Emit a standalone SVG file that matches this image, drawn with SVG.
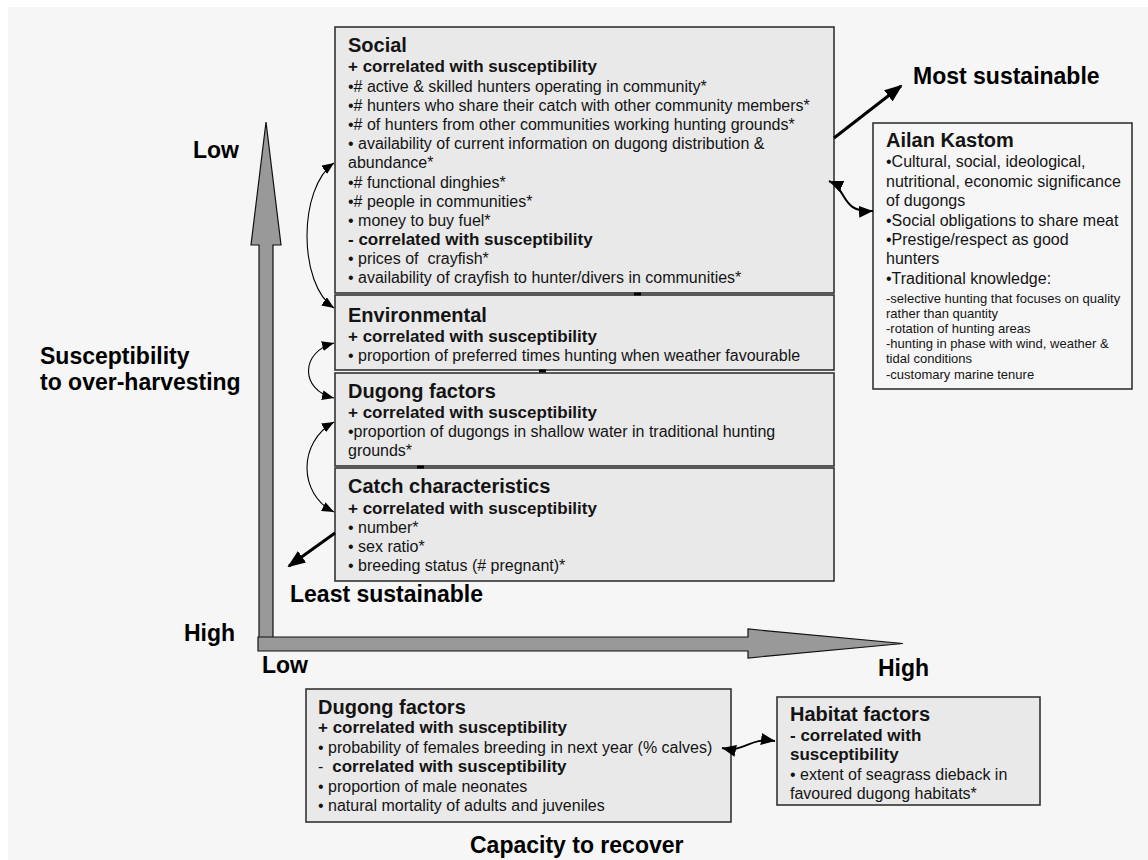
<svg xmlns="http://www.w3.org/2000/svg" width="1148" height="860" viewBox="0 0 1148 860">
  <style>
    text { font-family: "Liberation Sans", Arial, sans-serif; fill: #141414; white-space: pre; }
    .title { font-size: 20px; font-weight: bold; }
    .sub { font-size: 17px; font-weight: bold; }
    .body { font-size: 16px; }
    .small { font-size: 13px; }
    .axis { font-size: 23px; font-weight: bold; fill: #000; }
    .box { fill: #e9e9e9; stroke: #333; stroke-width: 1.6; }
    .plain { fill: none; stroke: #333; stroke-width: 1.6; }
    .bigarrow { fill: #999; stroke: #111; stroke-width: 1.2; stroke-linejoin: miter; }
    .thin { fill: none; stroke: #000; stroke-width: 1.1; marker-start: url(#headThin); marker-end: url(#headThin); }
    .mid { fill: none; stroke: #000; stroke-width: 2; marker-start: url(#headMid); marker-end: url(#headMid); }
    .thick { fill: none; stroke: #000; stroke-width: 3; marker-end: url(#headThick); }
  </style>
  <defs>
    <marker id="headThin" viewBox="0 0 12 10" refX="12" refY="5" markerWidth="12" markerHeight="10" markerUnits="userSpaceOnUse" orient="auto-start-reverse">
      <path d="M0,0 L12,5 L0,10 Z" fill="#000"/>
    </marker>
    <marker id="headMid" viewBox="0 0 14 12" refX="14" refY="6" markerWidth="14" markerHeight="12" markerUnits="userSpaceOnUse" orient="auto-start-reverse">
      <path d="M0,0 L14,6 L0,12 Z" fill="#000"/>
    </marker>
    <marker id="headThick" viewBox="0 0 18 14" refX="16" refY="7" markerWidth="18" markerHeight="14" markerUnits="userSpaceOnUse" orient="auto">
      <path d="M0,0 L18,7 L0,14 Z" fill="#000"/>
    </marker>
  </defs>

  <!-- page -->
  <rect x="0" y="0" width="1148" height="860" fill="#fff"/>
  <rect x="8" y="7" width="1140" height="853" fill="#f6f6f6"/>

  <!-- axes -->
  <g id="axes">
    <polygon class="bigarrow" points="259,650 259,245 251,245 266,122 281,245 273,245 273,650"/>
    <polygon class="bigarrow" points="258,637 748,637 748,629 903,643.5 748,658 748,651 258,651"/>
    <text class="axis" x="193" y="158">Low</text>
    <text class="axis" x="184" y="641">High</text>
    <text class="axis" x="40" y="364">Susceptibility</text>
    <text class="axis" x="40" y="390">to over-harvesting</text>
    <text class="axis" x="262" y="673">Low</text>
    <text class="axis" x="878" y="676">High</text>
    <text class="axis" x="470" y="853">Capacity to recover</text>
    <text class="axis" x="290" y="602">Least sustainable</text>
    <text class="axis" x="913" y="84">Most sustainable</text>
  </g>

  <!-- social factors -->
  <g id="social">
    <rect class="box" x="335" y="27" width="499" height="266"/>
    <text class="title" x="348" y="52">Social</text>
    <text class="sub" x="348" y="72">+ correlated with susceptibility</text>
    <text class="body" x="348" y="91.5">•# active &amp; skilled hunters operating in community*</text>
    <text class="body" x="348" y="110.5">•# hunters who share their catch with other community members*</text>
    <text class="body" x="348" y="129.5">•# of hunters from other communities working hunting grounds*</text>
    <text class="body" x="348" y="149">• availability of current information on dugong distribution &amp;</text>
    <text class="body" x="348" y="168">abundance*</text>
    <text class="body" x="348" y="187.5">•# functional dinghies*</text>
    <text class="body" x="348" y="206.5">•# people in communities*</text>
    <text class="body" x="348" y="225.5">• money to buy fuel*</text>
    <text class="sub" x="348" y="244.5">- correlated with susceptibility</text>
    <text class="body" x="348" y="263.5">• prices of  crayfish*</text>
    <text class="body" x="348" y="283">• availability of crayfish to hunter/divers in communities*</text>
  </g>

  <!-- environmental factors -->
  <g id="environmental">
    <rect class="box" x="335" y="295" width="499" height="75"/>
    <text class="title" x="348" y="322">Environmental</text>
    <text class="sub" x="348" y="342">+ correlated with susceptibility</text>
    <text class="body" x="348" y="361">• proportion of preferred times hunting when weather favourable</text>
  </g>

  <!-- dugong factors (susceptibility) -->
  <g id="dugong-upper">
    <rect class="box" x="335" y="373" width="499" height="93"/>
    <text class="title" x="348" y="398">Dugong factors</text>
    <text class="sub" x="348" y="418">+ correlated with susceptibility</text>
    <text class="body" x="348" y="437">•proportion of dugongs in shallow water in traditional hunting</text>
    <text class="body" x="348" y="456">grounds*</text>
  </g>

  <!-- catch characteristics -->
  <g id="catch">
    <rect class="box" x="335" y="468" width="499" height="113"/>
    <text class="title" x="348" y="493">Catch characteristics</text>
    <text class="sub" x="348" y="514">+ correlated with susceptibility</text>
    <text class="body" x="348" y="533">• number*</text>
    <text class="body" x="348" y="552">• sex ratio*</text>
    <text class="body" x="348" y="571">• breeding status (# pregnant)*</text>
  </g>

  <!-- ailan kastom -->
  <g id="ailan-kastom">
    <rect class="plain" x="873" y="123" width="259" height="266"/>
    <text class="title" x="886" y="147">Ailan Kastom</text>
    <text class="body" x="886" y="167">•Cultural, social, ideological,</text>
    <text class="body" x="886" y="187">nutritional, economic significance</text>
    <text class="body" x="886" y="206">of dugongs</text>
    <text class="body" x="886" y="226">•Social obligations to share meat</text>
    <text class="body" x="886" y="245">•Prestige/respect as good</text>
    <text class="body" x="886" y="264">hunters</text>
    <text class="body" x="886" y="284">•Traditional knowledge:</text>
    <text class="small" x="886" y="303">-selective hunting that focuses on quality</text>
    <text class="small" x="886" y="318">rather than quantity</text>
    <text class="small" x="886" y="333">-rotation of hunting areas</text>
    <text class="small" x="886" y="348">-hunting in phase with wind, weather &amp;</text>
    <text class="small" x="886" y="363">tidal conditions</text>
    <text class="small" x="886" y="379">-customary marine tenure</text>
  </g>

  <!-- dugong factors (recovery) -->
  <g id="dugong-lower">
    <rect class="box" x="306" y="689" width="425" height="133"/>
    <text class="title" x="318" y="714">Dugong factors</text>
    <text class="sub" x="318" y="733">+ correlated with susceptibility</text>
    <text class="body" x="318" y="752.5">• probability of females breeding in next year (% calves)</text>
    <text x="318" y="772"><tspan class="body">-  </tspan><tspan class="sub">correlated with susceptibility</tspan></text>
    <text class="body" x="318" y="791.5">• proportion of male neonates</text>
    <text class="body" x="318" y="811">• natural mortality of adults and juveniles</text>
  </g>

  <!-- habitat factors -->
  <g id="habitat">
    <rect class="box" x="777" y="697" width="263" height="108"/>
    <text class="title" x="790" y="721">Habitat factors</text>
    <text class="sub" x="790" y="740.5">- correlated with</text>
    <text class="sub" x="790" y="760">susceptibility</text>
    <text class="body" x="790" y="779.5">• extent of seagrass dieback in</text>
    <text class="body" x="790" y="799">favoured dugong habitats*</text>
  </g>

  <!-- connectors -->
  <g id="connectors">
    <path class="thin" d="M334,163 C298,188 298,284 334,308"/>
    <path class="thin" d="M334,343 C300,352 300,390 334,398"/>
    <path class="thin" d="M334,422 C298,442 298,494 334,512"/>
    <path class="mid" d="M829,181 C848,189 840,213 873,211"/>
    <path class="mid" d="M722,748 C746,753 748,737 775,741"/>
    <path class="thick" d="M834,138 L901,86"/>
    <path class="thick" d="M335,533 L289,566"/>
    <path d="M634,294 L641,294" stroke="#000" stroke-width="3"/>
    <path d="M539,371 L546,371" stroke="#000" stroke-width="3"/>
    <path d="M417,467 L424,467" stroke="#000" stroke-width="3"/>
  </g>
</svg>
